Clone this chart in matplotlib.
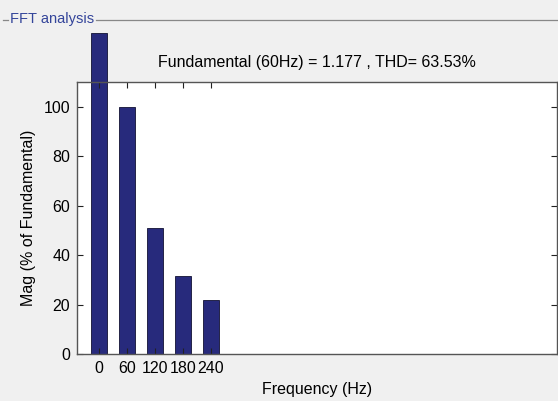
import matplotlib.pyplot as plt
from matplotlib.lines import Line2D

plt.rcParams["font.family"] = ["Liberation Sans", "DejaVu Sans"]

# harmonic order frequencies and magnitudes (% of fundamental)
freqs = [0, 60, 120, 180, 240]
mags = [130, 100, 51, 31.5, 22]
yticks = [0, 20, 40, 60, 80, 100]
title = "Fundamental (60Hz) = 1.177 , THD= 63.53%"

BG = "#f0f0f0"
BAR = "#272a7c"
FS = 11.5

fig = plt.figure(figsize=(5.58, 4.01), dpi=100, facecolor=BG)
ax = fig.add_axes([0.138, 0.117, 0.860, 0.678])

bars = ax.bar(freqs, mags, width=34, color=BAR, edgecolor="#111133", linewidth=0.6)
for b in bars:
    b.set_clip_on(False)

ax.set_xlim(-47, 981)
ax.set_ylim(0, 110)
ax.set_xticks(freqs)
ax.set_yticks(yticks)
ax.tick_params(direction="in", top=True, right=True, labelsize=FS, length=4,
               color="#222222", pad=5)
for s in ax.spines.values():
    s.set_color("#555555")
    s.set_linewidth(1.0)

ax.set_xlabel("Frequency (Hz)", fontsize=FS, labelpad=4)
ax.set_ylabel("Mag (% of Fundamental)", fontsize=FS, labelpad=5)
fig.text(0.568, 0.843, title, ha="center", va="center", fontsize=FS)

# panel frame with "FFT analysis" caption
fig.add_artist(Line2D([0.005, 0.015], [0.95, 0.95], color="#888888", lw=0.9,
                      transform=fig.transFigure))
fig.add_artist(Line2D([0.172, 1.0], [0.95, 0.95], color="#888888", lw=0.9,
                      transform=fig.transFigure))
fig.text(0.018, 0.952, "FFT analysis", ha="left", va="center", fontsize=10.5,
         color="#34459a")

fig.savefig("out.png", dpi=100, facecolor=BG)
